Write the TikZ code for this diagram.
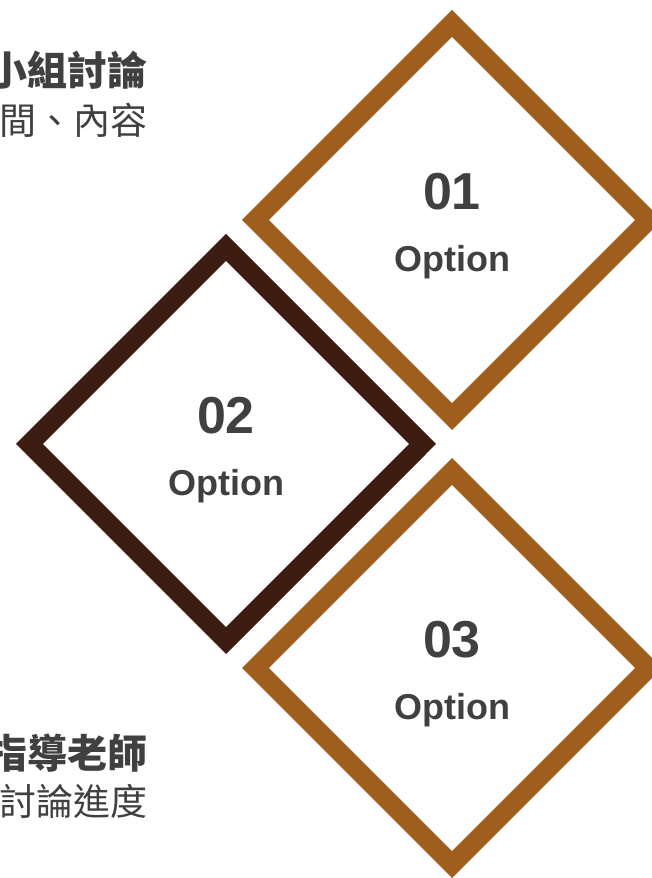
\documentclass[tikz,border=0pt]{standalone}
\usepackage{fontspec}
\usepackage{xcolor}
\usepackage{tikz}
\usetikzlibrary{shapes.geometric}
\newfontfamily\lsans{Liberation Sans}
\newfontfamily\cjk{Noto Sans CJK TC}
\definecolor{ochrec}{HTML}{A05E1E}
\definecolor{darkc}{HTML}{3D1C12}
\definecolor{textc}{HTML}{404040}
\tikzset{
  dm/.style={diamond,draw=#1,line width=19pt,minimum width=401pt,minimum height=401pt,inner sep=0pt},
  num/.style={anchor=base,inner sep=0pt,text=textc,font=\lsans\bfseries\fontsize{52}{52}\selectfont},
  opt/.style={anchor=base,inner sep=0pt,text=textc,font=\lsans\bfseries\fontsize{36}{36}\selectfont},
  ttl/.style={anchor=east,inner sep=0pt,text=textc,font=\cjk\bfseries\fontsize{40}{40}\selectfont},
  sub/.style={anchor=east,inner sep=0pt,text=textc,font=\cjk\fontsize{37}{37}\selectfont}
}
\begin{document}
\begin{tikzpicture}[x=1pt,y=1pt]
\useasboundingbox (0,0) rectangle (652,878);
% diamonds
\node[dm=ochrec] (d1) at (452,658) {};
\node[dm=darkc] (d2) at (226,434) {};
\node[dm=ochrec] (d3) at (452,210) {};
% labels inside
\node[num] (n1) at ([yshift=10pt]d1.center) {01};
\node[opt] (o1) at ([yshift=-52pt]d1.center) {Option};
\node[num] (n2) at ([yshift=10pt]d2.center) {02};
\node[opt] (o2) at ([yshift=-52pt]d2.center) {Option};
\node[num] (n3) at ([yshift=10pt]d3.center) {03};
\node[opt] (o3) at ([yshift=-52pt]d3.center) {Option};
% side texts
\node[ttl] (t1) at (148,808) {小組討論};
\node[sub] (s1) at (148,758) {間、內容};
\node[ttl] (t2) at (148,125) {指導老師};
\node[sub] (s2) at (148,77) {討論進度};
\end{tikzpicture}
\end{document}
